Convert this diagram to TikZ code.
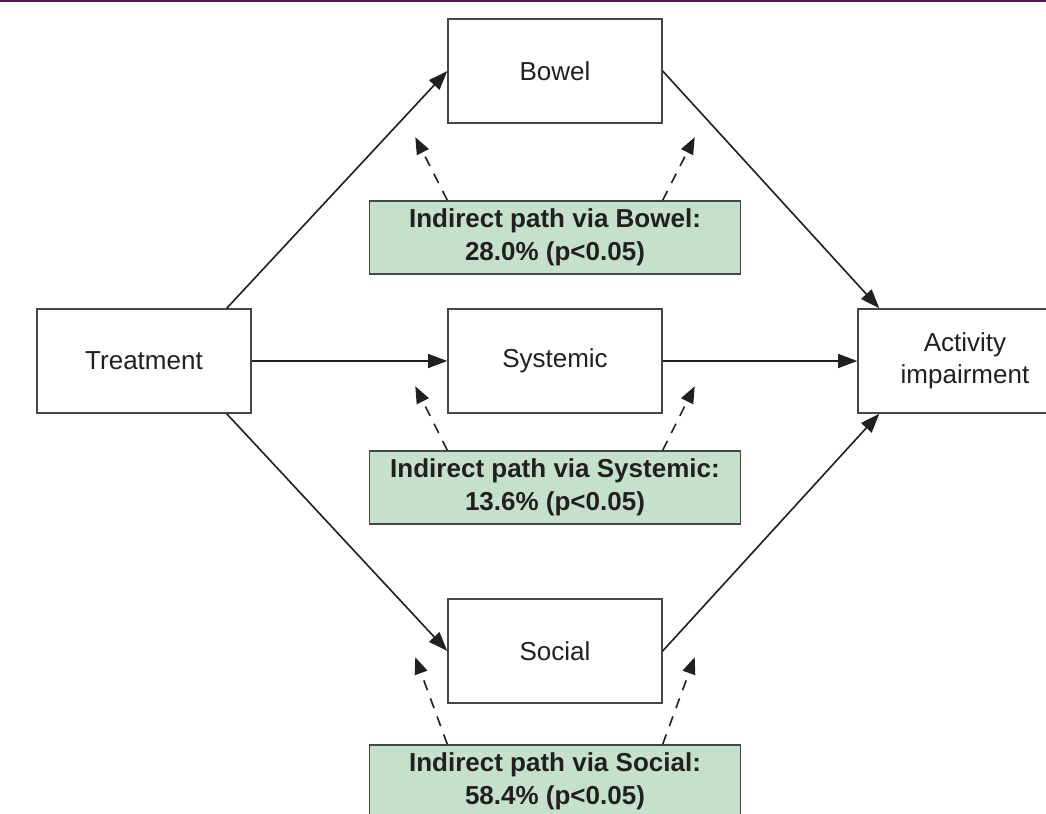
\documentclass[tikz,border=0pt]{standalone}
\usepackage{fontspec}
\setmainfont{Liberation Sans}
\usepackage{tikz}
\usetikzlibrary{arrows.meta,positioning,calc}
\definecolor{inkcolor}{RGB}{35,31,32}
\definecolor{edgecolor}{RGB}{70,70,70}
\definecolor{pathcolor}{RGB}{197,225,206}
\definecolor{rulecolor}{RGB}{90,22,85}

\begin{document}
\begin{tikzpicture}[
      box/.style={rectangle, draw=edgecolor, fill=white, line width=1pt,
                  minimum width=5.35cm, minimum height=2.6cm, align=center,
                  text=inkcolor, font=\fontsize{18.5}{22.5}\selectfont},
      pathbox/.style={rectangle, draw=edgecolor, fill=pathcolor, line width=1pt,
                  minimum width=9.275cm, minimum height=1.825cm, align=center, inner sep=2pt,
                  text=inkcolor, font=\fontsize{18.5}{24}\selectfont\bfseries},
      arr/.style={-{Triangle[length=4.8mm,width=3.5mm]}, draw=inkcolor, line width=1.15pt},
      darr/.style={-{Triangle[length=4.2mm,width=3.3mm]}, draw=inkcolor, line width=1.15pt,
                  dash pattern=on 2.6mm off 2.2mm}
    ]
    \useasboundingbox (-13.875,-11.325) rectangle (12.275,9.025);
    \draw[rulecolor, line width=0.045cm] (-13.875,9.0) -- (12.275,9.0);

    % the four outcome boxes
    \node[box] (treat)  at (-10.275, 0.00) {Treatment};
    \node[box] (bowel)  at (  0.000, 7.25) {Bowel};
    \node[box] (sys)    at (  0.000, 0.00) {Systemic};
    \node[box] (social) at (  0.000,-7.25) {Social};
    \node[box] (act)    at ( 10.250, 0.00) {Activity\\impairment};

    % indirect path labels
    \node[pathbox] (gbowel)  at (0,  3.09) {Indirect path via Bowel:\\28.0\% (p<0.05)};
    \node[pathbox] (gsys)    at (0, -3.16) {Indirect path via Systemic:\\13.6\% (p<0.05)};
    \node[pathbox] (gsocial) at (0,-10.51) {Indirect path via Social:\\58.4\% (p<0.05)};

    % direct paths
    \draw[arr] ([xshift=-0.625cm]treat.north east) -- (bowel.west);
    \draw[arr] (treat.east) -- (sys.west);
    \draw[arr] ([xshift=-0.625cm]treat.south east) -- (social.west);
    \draw[arr] (bowel.east) -- ([xshift=0.55cm]act.north west);
    \draw[arr] (sys.east) -- (act.west);
    \draw[arr] (social.east) -- ([xshift=0.55cm]act.south west);

    % dashed pointers
    \draw[darr] (bowel.south west |- gbowel.north) -- ++(-0.8,1.575);
    \draw[darr] (bowel.south east |- gbowel.north) -- ++(0.8,1.575);
    \draw[darr] (sys.south west |- gsys.north) -- ++(-0.8,1.6);
    \draw[darr] (sys.south east |- gsys.north) -- ++(0.8,1.6);
    \draw[darr] (social.south west |- gsocial.north) -- ++(-0.8,2.175);
    \draw[darr] (social.south east |- gsocial.north) -- ++(0.8,2.175);
  \end{tikzpicture}
\end{document}
